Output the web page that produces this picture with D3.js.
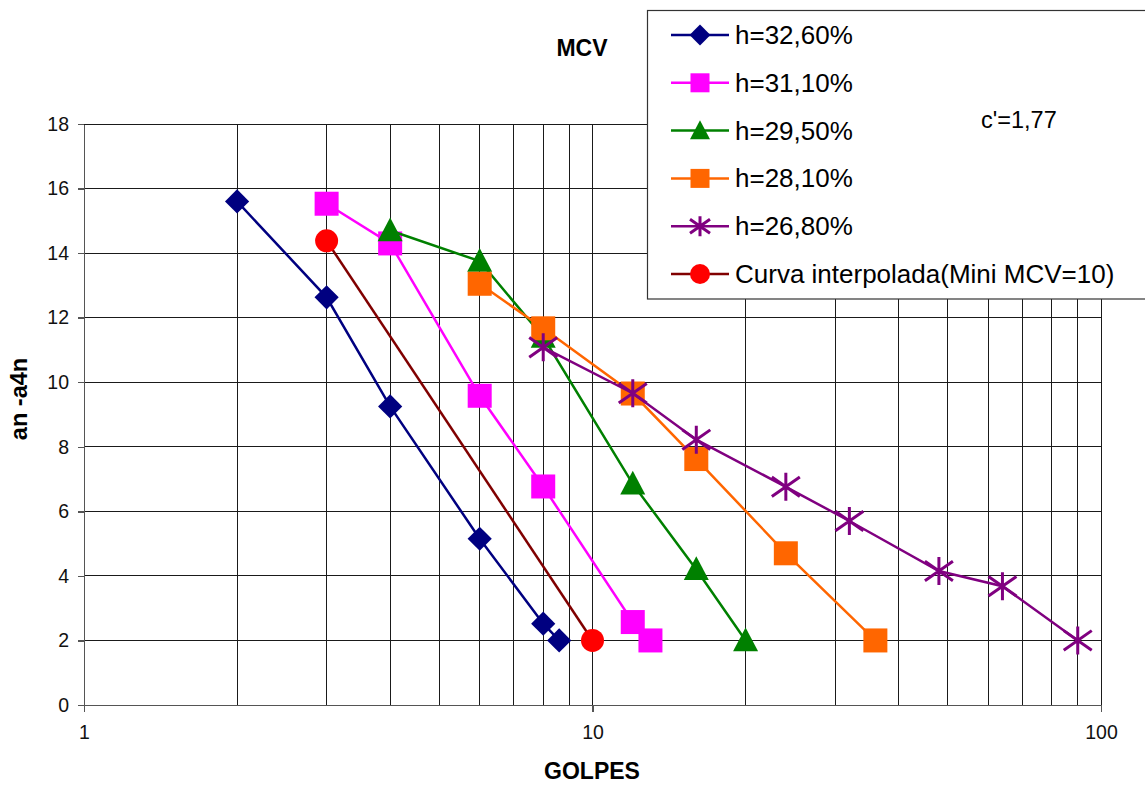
<!DOCTYPE html>
<html>
<head>
<meta charset="utf-8">
<script src="https://cdn.jsdelivr.net/npm/d3@7/dist/d3.min.js"></script>
<style>
  html, body { margin: 0; padding: 0; background: #fff; }
  svg { display: block; font-family: "Liberation Sans", Arial, sans-serif; }
</style>
</head>
<body>
<svg id="chart" width="1145" height="785"></svg>
<script>
// Blow counts (GOLPES) and an - a4n values for each moisture content
const golpes1 = [2, 3, 4, 6, 8, 8.6];
const valores1 = [15.6, 12.63, 9.25, 5.15, 2.52, 2.0];

const golpes2 = [3, 4, 6, 8, 12, 13];
const valores2 = [15.53, 14.3, 9.58, 6.77, 2.57, 2.0];

const golpes3 = [4, 6, 8, 12, 16, 20];
const valores3 = [14.7, 13.75, 11.4, 6.85, 4.2, 2.0];

const golpes4 = [6, 8, 12, 16, 24, 36];
const valores4 = [13.05, 11.67, 9.65, 7.62, 4.7, 2.0];

const golpes5 = [8, 12, 16, 24, 32, 48, 64, 90];
const valores5 = [11.08, 9.66, 8.22, 6.76, 5.7, 4.15, 3.68, 2.0];

const golpesInterp = [3, 10];
const valoresInterp = [14.38, 2.0];

const seriesNames = ["h=32,60%", "h=31,10%", "h=29,50%", "h=28,10%", "h=26,80%", "Curva interpolada(Mini MCV=10)"];
const yTicks = [0, 2, 4, 6, 8, 10, 12, 14, 16, 18];
const xTickLabels = [1, 10, 100];
const xGrid = [2, 3, 4, 5, 6, 7, 8, 9, 10, 20, 30, 40, 50, 60, 70, 80, 90, 100];

const series = [
  { name: seriesNames[0], x: golpes1, y: valores1, line: "#000080", fill: "#000080", marker: "diamond" },
  { name: seriesNames[1], x: golpes2, y: valores2, line: "#FF00FF", fill: "#FF00FF", marker: "square" },
  { name: seriesNames[2], x: golpes3, y: valores3, line: "#008000", fill: "#008000", marker: "triangle" },
  { name: seriesNames[3], x: golpes4, y: valores4, line: "#FF6600", fill: "#FF6600", marker: "square" },
  { name: seriesNames[4], x: golpes5, y: valores5, line: "#800080", fill: "#800080", marker: "star" },
  { name: seriesNames[5], x: golpesInterp, y: valoresInterp, line: "#800000", fill: "#FF0000", marker: "circle" }
];

const svg = d3.select("#chart");
const plotLeft = 84, plotRight = 1101, plotTop = 124, plotBottom = 705;

const x = d3.scaleLog().domain([1, 100]).range([plotLeft, plotRight]);
const y = d3.scaleLinear().domain([0, 18]).range([plotBottom, plotTop]);

// Grid
const grid = svg.append("g").attr("shape-rendering", "crispEdges");
grid.selectAll("line.h").data(yTicks.filter(d => d > 0)).join("line")
  .attr("class", "h")
  .attr("x1", plotLeft).attr("x2", plotRight)
  .attr("y1", d => y(d)).attr("y2", d => y(d))
  .attr("stroke", "#1a1a1a").attr("stroke-width", 1);
grid.selectAll("line.v").data(xGrid).join("line")
  .attr("class", "v")
  .attr("y1", plotTop).attr("y2", plotBottom)
  .attr("x1", d => x(d)).attr("x2", d => x(d))
  .attr("stroke", "#1a1a1a").attr("stroke-width", 1);

// Axes
const yAxis = svg.append("g")
  .attr("transform", `translate(${plotLeft},0)`)
  .call(d3.axisLeft(y).tickValues(yTicks).tickSize(6).tickPadding(9).tickSizeOuter(0));
const xAxis = svg.append("g")
  .attr("transform", `translate(0,${plotBottom})`)
  .call(d3.axisBottom(x).tickValues(xTickLabels).tickFormat(d3.format("d")).tickSize(7).tickPadding(13).tickSizeOuter(0));

[yAxis, xAxis].forEach(a => {
  a.attr("shape-rendering", "crispEdges");
  a.select(".domain").attr("stroke", "#555").attr("stroke-width", 1.5);
  a.selectAll(".tick line").attr("stroke", "#555").attr("stroke-width", 1.5);
  a.selectAll(".tick text").attr("font-size", 19.5).attr("fill", "#111")
    .attr("font-family", "'Liberation Sans', Arial, sans-serif");
});

// Marker drawing
function drawMarker(g, type, cx, cy, color, s) {
  if (type === "diamond") {
    const r = s * 0.55;
    g.append("path").attr("d", `M${cx},${cy - r}L${cx + r},${cy}L${cx},${cy + r}L${cx - r},${cy}Z`)
      .attr("fill", color);
  } else if (type === "square") {
    g.append("rect").attr("x", cx - s / 2).attr("y", cy - s / 2)
      .attr("width", s).attr("height", s).attr("fill", color);
  } else if (type === "triangle") {
    const h = s * 0.95;
    g.append("path").attr("d", `M${cx},${cy - h * 0.55}L${cx + s / 2},${cy + h * 0.45}L${cx - s / 2},${cy + h * 0.45}Z`)
      .attr("fill", color);
  } else if (type === "circle") {
    g.append("circle").attr("cx", cx).attr("cy", cy).attr("r", s / 2).attr("fill", color);
  } else if (type === "star") {
    const r = s / 2;
    const p = `M${cx - r},${cy - r * 0.7}L${cx + r},${cy + r * 0.7}` +
              `M${cx - r},${cy + r * 0.7}L${cx + r},${cy - r * 0.7}` +
              `M${cx},${cy - r}L${cx},${cy + r}`;
    g.append("path").attr("d", p).attr("stroke", color).attr("stroke-width", 3).attr("fill", "none");
  }
}

const markerSize = { diamond: 22, square: 24, triangle: 25, circle: 23, star: 28 };
const legendSize = { diamond: 19, square: 19, triangle: 20, circle: 20, star: 20 };
const line = d3.line();

series.forEach(s => {
  const g = svg.append("g");
  const pts = s.x.map((v, i) => [x(v), y(s.y[i])]);
  g.append("path").attr("d", line(pts)).attr("fill", "none")
    .attr("stroke", s.line).attr("stroke-width", 2.5);
  pts.forEach(p => drawMarker(g, s.marker, p[0], p[1], s.fill, markerSize[s.marker]));
});

// Titles
svg.append("text").attr("x", 582).attr("y", 56).attr("text-anchor", "middle")
  .attr("font-size", 23).attr("font-weight", "bold").text("MCV");
svg.append("text").attr("x", 592).attr("y", 779).attr("text-anchor", "middle")
  .attr("font-size", 23).attr("font-weight", "bold").text("GOLPES");
svg.append("text").attr("transform", "translate(27,399) rotate(-90)").attr("text-anchor", "middle")
  .attr("font-size", 23.5).attr("font-weight", "bold").text("an -a4n");

// Legend
const lg = svg.append("g");
lg.append("rect").attr("x", 647.5).attr("y", 10.5).attr("width", 520).attr("height", 288.5)
  .attr("fill", "#fff").attr("stroke", "#333").attr("stroke-width", 1.2);
series.forEach((s, i) => {
  const cy = 35 + i * 47.8;
  lg.append("line").attr("x1", 671).attr("x2", 729).attr("y1", cy).attr("y2", cy)
    .attr("stroke", s.line).attr("stroke-width", 2.5);
  drawMarker(lg, s.marker, 700, cy, s.fill, legendSize[s.marker]);
  lg.append("text").attr("x", 735).attr("y", cy + 9).attr("font-size", 26).attr("fill", "#000").text(s.name);
});

svg.append("text").attr("x", 981).attr("y", 128).attr("font-size", 23.5).attr("fill", "#000").text("c'=1,77");
</script>
</body>
</html>
